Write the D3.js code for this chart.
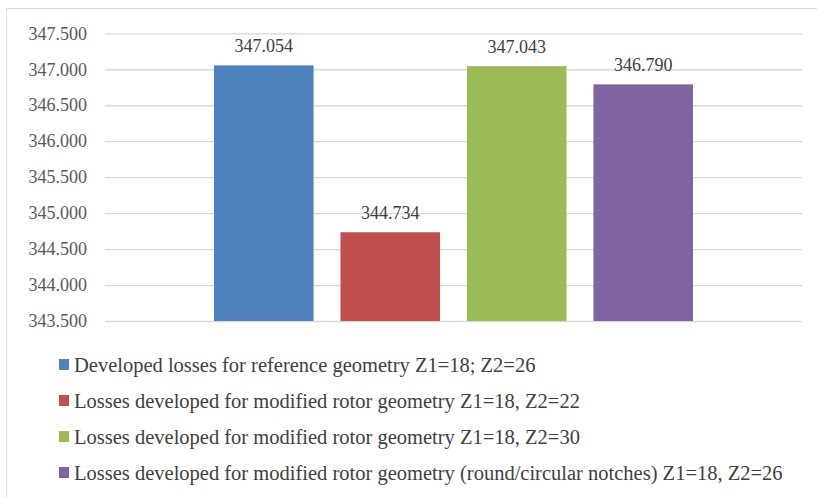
<!DOCTYPE html>
<html>
<head>
<meta charset="utf-8">
<script src="https://cdn.jsdelivr.net/npm/d3@7/dist/d3.min.js"></script>
<style>
  html, body { margin: 0; padding: 0; background: #fff; }
</style>
</head>
<body>
<svg id="chart" width="817" height="497" style="font-family: 'Liberation Serif', 'DejaVu Serif', serif;"></svg>
<script>
// Losses per rotor geometry (one cluster, four series)
const seriesNames = [
  "Developed losses for reference geometry Z1=18; Z2=26",
  "Losses developed for modified rotor geometry Z1=18, Z2=22",
  "Losses developed for modified rotor geometry Z1=18, Z2=30",
  "Losses developed for modified rotor geometry (round/circular notches) Z1=18, Z2=26"
];
const seriesValues = [347.054, 344.734, 347.043, 346.790];
const seriesColors = ["#4f81bd", "#c0504d", "#9bbb59", "#8064a2"];
const yTicks = [343.5, 344.0, 344.5, 345.0, 345.5, 346.0, 346.5, 347.0, 347.5];

const FONT = "'Liberation Serif', 'DejaVu Serif', serif";
const svg = d3.select("#chart");
const W = 817, H = 497;
const plot = { left: 105, right: 802, top: 33.3, bottom: 321 };

// Chart area frame
svg.append("rect")
  .attr("x", 6.5).attr("y", 8.5)
  .attr("width", W + 10).attr("height", H + 10)
  .attr("fill", "#fff").attr("stroke", "#d9d9d9").attr("stroke-width", 1);

const y = d3.scaleLinear().domain([343.5, 347.5]).range([plot.bottom, plot.top]);

const x0 = d3.scaleBand().domain(["all"]).range([plot.left, plot.right]).paddingOuter(0.2276);
const x1 = d3.scaleBand().domain(d3.range(seriesValues.length))
  .range([0, x0.bandwidth()]).paddingInner(0.213).paddingOuter(0);

// Gridlines and tick labels via the axis generator
const yAxis = d3.axisLeft(y).tickValues(yTicks)
  .tickSize(-(plot.right - plot.left)).tickPadding(18)
  .tickFormat(d3.format(".3f"));

const gAxis = svg.append("g")
  .attr("transform", `translate(${plot.left},0)`)
  .call(yAxis);
gAxis.attr("font-family", FONT).attr("font-size", 18);
gAxis.select(".domain").remove();
gAxis.selectAll(".tick line").attr("stroke", "#d9d9d9").attr("stroke-width", 1.3);
gAxis.selectAll(".tick text")
  .attr("fill", "#595959")
  .style("font-family", FONT);

// Bars
const gBars = svg.append("g").attr("transform", `translate(${x0("all")},0)`);
gBars.selectAll("rect").data(seriesValues).join("rect")
  .attr("x", (d, i) => x1(i))
  .attr("width", x1.bandwidth())
  .attr("y", d => y(d))
  .attr("height", d => y(343.5) - y(d))
  .attr("fill", (d, i) => seriesColors[i]);

// Value labels
gBars.selectAll("text").data(seriesValues).join("text")
  .attr("x", (d, i) => x1(i) + x1.bandwidth() / 2)
  .attr("y", d => y(d) - 13.5)
  .attr("text-anchor", "middle")
  .attr("font-size", 18)
  .attr("fill", "#404040")
  .style("font-family", FONT)
  .text(d => d3.format(".3f")(d));

// Legend
const legend = svg.append("g");
const rowY = [364.5, 400.5, 436.5, 472.5];
const items = legend.selectAll("g").data(seriesNames).join("g")
  .attr("transform", (d, i) => `translate(59,${rowY[i]})`);
items.append("rect")
  .attr("x", 0).attr("y", -5.5).attr("width", 10).attr("height", 11)
  .attr("fill", (d, i) => seriesColors[i]);
items.append("text")
  .attr("x", 15).attr("y", 7.2)
  .attr("font-size", 20.5)
  .attr("fill", "#404040")
  .style("font-family", FONT)
  .text(d => d);
</script>
</body>
</html>
